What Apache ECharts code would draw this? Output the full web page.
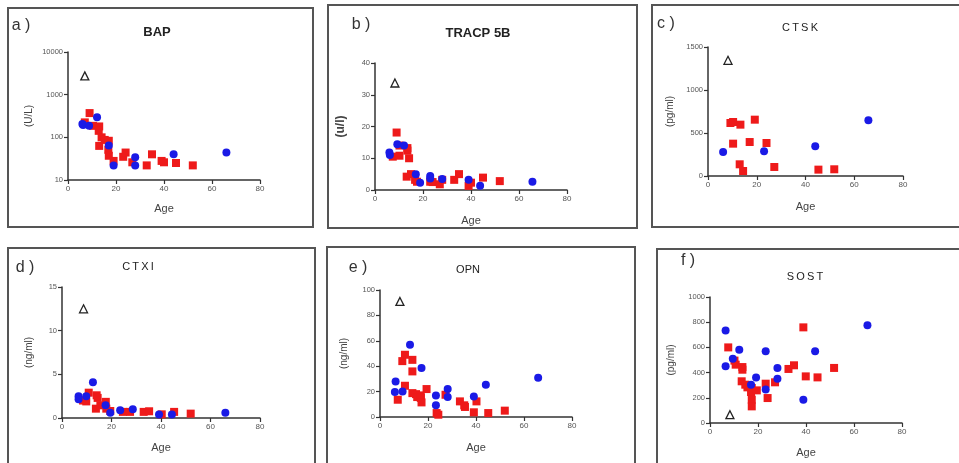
<!DOCTYPE html>
<html>
<head>
<meta charset="utf-8">
<script src="https://cdn.jsdelivr.net/npm/echarts@6/dist/echarts.min.js"></script>
<style>
html,body{margin:0;padding:0;background:#fff;}
#chart{width:959px;height:463px;}
</style>
</head>
<body>
<div id="chart"></div>
<script>
// ---- data: [age, value] ----
const bapRed = [[7,224],[9,370],[10.4,186],[13,180],[12.8,142],[13,63],[14,100],[15.3,87],[17,83],[16.8,51],[17,37],[19,28],[23,35],[24,44],[26.8,26],[32.8,22],[35,40],[39,28],[40,26],[45,25],[52,22]];
const bapBlue = [[6,205],[6.3,195],[8.8,186],[12.1,295],[17,64],[19,22],[28,34],[28,22],[44,40],[66,44]];
const bapTri = [[7,2760]];

const tracpRed = [[7.4,10.5],[9,18.1],[10.2,10.8],[10.2,14],[13.5,13.2],[13.5,12.4],[14.2,10],[13.2,4.2],[15,5],[16.7,3.2],[17.5,2.6],[23,2.6],[24,2.5],[27,1.8],[28,3.2],[33,3.2],[35,5],[39,1.3],[40,2.3],[45,3.9],[52,2.8]];
const tracpBlue = [[6,11.8],[6.2,11],[9.3,14.4],[12.1,14],[17,5],[18.8,2.3],[23,4.4],[23,3.6],[28,3.5],[39,3.2],[43.8,1.3],[65.6,2.6]];
const tracpTri = [[8.3,33.7]];

const ctskRed = [[9.2,616],[10.3,628],[13.3,597],[19.2,655],[10.3,376],[17.1,395],[24,384],[13,136],[14.4,58],[27.2,105],[45.3,74],[51.8,78]];
const ctskBlue = [[6.2,279],[23,287],[44,345],[65.8,647]];
const ctskTri = [[8.2,1345]];

const ctxiRed = [[8.5,2.0],[9.8,1.9],[10.8,2.9],[14,2.6],[14.4,2.3],[13.7,1.07],[15.5,1.45],[17.7,1.85],[17.9,1.07],[19.5,0.8],[24.6,0.7],[27.5,0.7],[33,0.7],[35.2,0.77],[40.3,0.42],[45.3,0.7],[52,0.5]];
const ctxiBlue = [[6.7,2.5],[6.7,2.15],[9.8,2.5],[12.5,4.1],[17.6,1.45],[19.5,0.6],[23.5,0.9],[28.6,1.0],[39.2,0.4],[44.4,0.4],[66,0.6]];
const ctxiTri = [[8.7,12.5]];

const opnRed = [[7.4,13.6],[9.3,44],[10.4,49],[10.4,24.6],[13.5,45],[13.5,35.9],[13.5,18.8],[15,18],[15.5,15.7],[17,17],[17,15],[17.3,11.5],[19.4,22],[23.6,3.1],[24.3,1.8],[27.3,17.5],[33.3,12.3],[35.1,9.2],[35.4,7.9],[39.1,3.7],[40.2,12.3],[45.1,3.1],[52,5]];
const opnBlue = [[6.5,28],[6.2,19.6],[9.4,20],[12.5,56.8],[17.3,38.5],[23.3,17],[23.3,9.2],[28.2,22],[28.2,15.7],[39.1,16.2],[44.1,25.4],[65.9,31]];
const opnTri = [[8.3,91]];

const sostRed = [[7.6,600],[10.2,495],[10.7,463],[13.5,444],[13.5,423],[13.2,331],[14.7,304],[15.6,283],[17.4,278],[17.1,246],[17.4,185],[17.4,132],[19.5,259],[23.2,312],[24,198],[27.1,323],[32.7,429],[35,458],[38.9,759],[39.9,370],[44.8,362],[51.7,437]];
const sostBlue = [[6.5,735],[6.5,450],[9.5,510],[12.2,582],[17.1,304],[19.2,362],[23.2,569],[23.2,265],[28.1,437],[28.1,352],[38.9,185],[43.8,569],[65.6,775]];
const sostTri = [[8.3,66]];

const xTicks = [0, 20, 40, 60, 80];
const panelLabels = ['a )','b )','c )','d )','e )','f )'];
const panelTitles = ['BAP','TRACP 5B','CTSK','CTXI','OPN','SOST'];
const yNames = ['(U/L)','(u/l)','(pg/ml)','(ng/ml)','(ng/ml)','(pg/ml)'];

const panels = [
  {red:bapRed, blue:bapBlue, tri:bapTri, log:true, min:10, max:10000,
   grid:{left:68,top:52,width:192,height:128}, yGap:34, xGap:23, yNameBold:false},
  {red:tracpRed, blue:tracpBlue, tri:tracpTri, min:0, max:40, interval:10,
   grid:{left:375,top:63,width:192,height:127}, yGap:28, xGap:25, yNameBold:true},
  {red:ctskRed, blue:ctskBlue, tri:ctskTri, min:0, max:1500, interval:500,
   grid:{left:708,top:47,width:195,height:129}, yGap:33, xGap:25, yNameBold:false},
  {red:ctxiRed, blue:ctxiBlue, tri:ctxiTri, min:0, max:15, interval:5,
   grid:{left:62,top:287,width:198,height:131}, yGap:28, xGap:24, yNameBold:false},
  {red:opnRed, blue:opnBlue, tri:opnTri, min:0, max:100, interval:20,
   grid:{left:380,top:290,width:192,height:127}, yGap:31, xGap:25, yNameBold:false},
  {red:sostRed, blue:sostBlue, tri:sostTri, min:0, max:1000, interval:200,
   grid:{left:710,top:297,width:192,height:126}, yGap:34, xGap:24, yNameBold:false}
];

const boxes = [
  {x:8,y:8,w:305,h:219},
  {x:328,y:5,w:309,h:223},
  {x:652,y:5,w:310,h:222},
  {x:8,y:248,w:307,h:240},
  {x:327,y:247,w:308,h:240},
  {x:657,y:249,w:305,h:240}
];
const labelPos = [[21,26],[361,25],[666,24],[25,268],[358,268],[688,261]];
const titlePos = [[157,32,true,13,0],[478,33,true,13,0],[800,28,false,11,1],[138,267,false,11,1],[468,270,false,11,0],[805,277,false,11,1]];

const RED = '#ee1a1a', BLUE = '#1a1ae6', AXIS = '#333';
const FONT = '"Liberation Sans", Arial, sans-serif';

const grids = [], xAxes = [], yAxes = [], series = [], graphics = [];

panels.forEach((p, i) => {
  grids.push(Object.assign({containLabel:false}, p.grid));
  xAxes.push({
    type:'value', gridIndex:i, min:0, max:80, interval:20,
    name:'Age', nameLocation:'middle', nameGap:p.xGap,
    nameTextStyle:{fontSize:11, color:'#444', fontFamily:FONT},
    axisLine:{show:true, onZero:false, lineStyle:{color:AXIS, width:1.5}},
    axisTick:{show:true, length:4, lineStyle:{color:AXIS, width:1.2}},
    axisLabel:{fontSize:8, color:'#555', margin:5, fontFamily:FONT,
      customValues: xTicks},
    splitLine:{show:false}
  });
  const y = {
    gridIndex:i, min:p.min, max:p.max,
    name:yNames[i], nameLocation:'middle', nameGap:p.yGap,
    nameTextStyle:{fontSize:p.yNameBold?12:10, fontWeight:p.yNameBold?'bold':'normal', color:'#444', fontFamily:FONT},
    axisLine:{show:true, onZero:false, lineStyle:{color:AXIS, width:1.5}},
    axisTick:{show:true, length:4, lineStyle:{color:AXIS, width:1.2}},
    axisLabel:{fontSize:7.5, color:'#555', margin:5, fontFamily:FONT,
      formatter: v => String(Math.round(v))},
    splitLine:{show:false}
  };
  if (p.log) { y.type = 'log'; y.logBase = 10; }
  else { y.type = 'value'; y.interval = p.interval; }
  yAxes.push(y);

  series.push({type:'scatter', xAxisIndex:i, yAxisIndex:i, data:p.red,
    symbol:'rect', symbolSize:8, itemStyle:{color:RED, opacity:1}});
  series.push({type:'scatter', xAxisIndex:i, yAxisIndex:i, data:p.blue,
    symbol:'circle', symbolSize:8, itemStyle:{color:BLUE, opacity:1}});
  series.push({type:'scatter', xAxisIndex:i, yAxisIndex:i, data:p.tri,
    symbol:'triangle', symbolSize:8, itemStyle:{color:'#fff', borderColor:'#222', borderWidth:1.3, opacity:1}});

  const b = boxes[i];
  graphics.push({type:'rect', shape:{x:b.x, y:b.y, width:b.w, height:b.h},
    style:{fill:'none', stroke:'#555', lineWidth:2}, z:-1, silent:true});
  graphics.push({type:'text', x:labelPos[i][0], y:labelPos[i][1],
    style:{text:panelLabels[i], fill:'#333', font:'16px '+FONT,
      align:'center', verticalAlign:'middle', textAlign:'center', textVerticalAlign:'middle'}});
  const t = titlePos[i];
  const txt = t[4] ? panelTitles[i].split('').join('\u2009') : panelTitles[i];
  graphics.push({type:'text', x:t[0], y:t[1],
    style:{text:txt, fill:'#222',
      font:(t[2]?'bold ':'')+t[3]+'px '+FONT,
      align:'center', verticalAlign:'middle', textAlign:'center', textVerticalAlign:'middle'}});
});

const chart = echarts.init(document.getElementById('chart'), null, {renderer:'canvas'});
chart.setOption({
  animation:false,
  backgroundColor:'#fff',
  textStyle:{fontFamily:FONT},
  grid:grids, xAxis:xAxes, yAxis:yAxes, series:series,
  graphic:graphics
});
</script>
</body>
</html>
